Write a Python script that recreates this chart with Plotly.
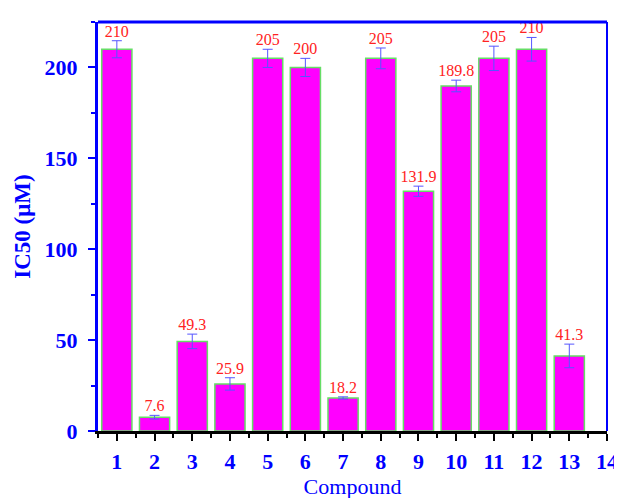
import plotly.graph_objects as go

compounds = [1, 2, 3, 4, 5, 6, 7, 8, 9, 10, 11, 12, 13]
ic50 = [210, 7.6, 49.3, 25.9, 205, 200, 18.2, 205, 131.9, 189.8, 205, 210, 41.3]
errors = [4.7, 1.0, 4.0, 3.4, 5.0, 5.0, 0.6, 5.7, 2.8, 3.2, 6.7, 6.5, 6.5]
labels = ["210", "7.6", "49.3", "25.9", "205", "200", "18.2", "205", "131.9", "189.8", "205", "210", "41.3"]
x_ticks = list(range(1, 15))

BLUE = "#0000FF"
SERIF = "Liberation Serif, Times New Roman, serif"

fig = go.Figure()
fig.add_trace(go.Bar(
    x=compounds, y=ic50, width=0.8,
    marker=dict(color="#FF00FF", line=dict(color="#66DD66", width=1.5)),
    error_y=dict(type="data", array=errors, visible=True, color="#5555FF",
                 thickness=1, width=5),
    showlegend=False,
))
fig.add_trace(go.Scatter(
    x=compounds, y=[v + e for v, e in zip(ic50, errors)],
    mode="text", text=labels, textposition="top center",
    textfont=dict(family=SERIF, size=16, color="#FF2222"),
    showlegend=False, hoverinfo="skip",
))

fig.update_layout(
    width=622, height=498,
    margin=dict(l=88, r=12, t=14, b=64),
    paper_bgcolor="white", plot_bgcolor="white",
    bargap=0.2,
    xaxis=dict(
        range=[0.5, 14], tickmode="array", tickvals=x_ticks, ticktext=[str(t) for t in x_ticks],
        showline=True, linecolor="black", linewidth=3, mirror=False,
        ticks="outside", ticklen=7, tickwidth=2, tickcolor="black",
        minor=dict(dtick=0.5, tick0=0.5, ticks="outside", ticklen=4, tickwidth=2, tickcolor="black"),
        showgrid=False, zeroline=False,
        ticklabelstandoff=2,
        tickfont=dict(family=SERIF, size=22, color=BLUE, weight="bold"),
        title=dict(text="Compound", font=dict(family=SERIF, size=22, color=BLUE), standoff=4),
    ),
    yaxis=dict(
        range=[0, 225], tickmode="array", tickvals=[0, 50, 100, 150, 200],
        showline=True, linecolor=BLUE, linewidth=3, mirror=False,
        ticks="outside", ticklen=7, tickwidth=2, tickcolor=BLUE,
        minor=dict(dtick=25, tick0=0, ticks="outside", ticklen=4, tickwidth=2, tickcolor=BLUE),
        showgrid=False, zeroline=False,
        ticklabelstandoff=6,
        tickfont=dict(family=SERIF, size=22, color=BLUE, weight="bold"),
        title=dict(text="IC50 (μM)", font=dict(family=SERIF, size=23, color=BLUE, weight="bold"), standoff=8),
    ),
    shapes=[
        dict(type="line", xref="paper", yref="paper", x0=0, x1=1, y0=1, y1=1,
             line=dict(color=BLUE, width=3)),
        dict(type="line", xref="paper", yref="paper", x0=1, x1=1, y0=0, y1=1,
             line=dict(color=BLUE, width=2)),
    ],
)

fig.write_html("out.html")
